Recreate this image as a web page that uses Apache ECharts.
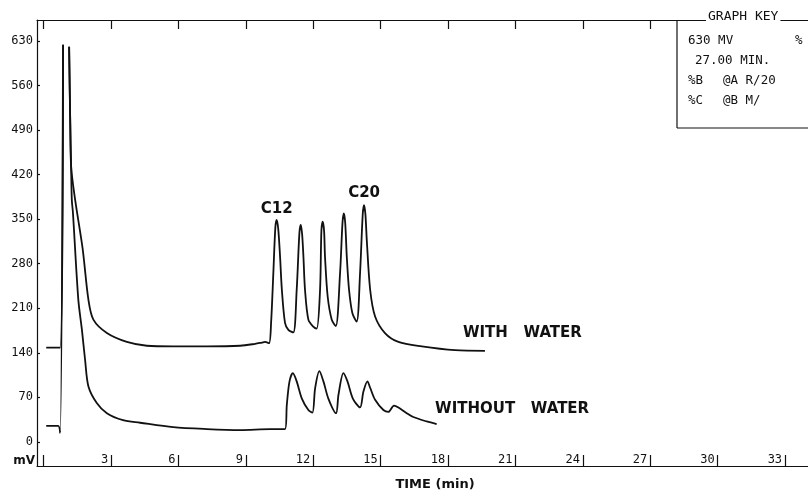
<!DOCTYPE html>
<html>
<head>
<meta charset="utf-8">
<script src="https://cdn.jsdelivr.net/npm/echarts@6/dist/echarts.min.js"></script>
<style>
  html, body { margin: 0; padding: 0; background: #fff; }
  #chart { width: 808px; height: 494px; }
</style>
</head>
<body>
<div id="chart"></div>
<script>
// Detector trace: [retention time (min), response (mV)]; '-' marks where the pen lifted off-scale
const withWater = [
  [0.11,148],[0.73,148],[0.86,624],[1.0,'-'],[1.13,621],[1.18,501],[1.22,432],[1.40,380],
  [1.73,304],[1.99,223],[2.21,192],[2.81,171],[3.70,157],[4.59,151],[5.76,150],[7.26,150],
  [8.74,151],[9.41,154],[9.71,156],[9.85,157],[10.03,155],[10.12,187],[10.22,265],[10.31,337],
  [10.37,349],[10.44,334],[10.52,291],[10.60,239],[10.74,187],[10.89,176],[11.11,172],[11.26,239],
  [11.38,328],[11.44,341],[11.50,327],[11.56,291],[11.63,239],[11.78,192],[12.00,181],[12.15,178],
  [12.30,239],[12.36,332],[12.42,346],[12.48,331],[12.52,291],[12.64,228],[12.82,192],[13.00,182],
  [13.19,265],[13.30,345],[13.36,359],[13.42,344],[13.49,291],[13.59,239],[13.74,202],[13.93,189],
  [14.08,265],[14.20,358],[14.26,372],[14.32,357],[14.38,317],[14.53,239],[14.75,197],[15.19,171],
  [15.79,157],[16.83,150],[18.31,144],[19.64,143]
];
const withoutWater = [
  [0.11,25],[0.64,25],[0.73,14],[0.86,624],[1.0,'-'],[1.13,621],[1.18,501],[1.22,432],[1.25,380],
  [1.30,360],[1.54,223],[1.70,176],[1.84,129],[1.99,87],[2.36,61],[2.81,45],[3.53,34],[4.29,30],
  [5.76,23],[7.26,20],[8.74,18.5],[10.08,20],[10.74,20],[10.82,58],[10.94,95],[11.09,108],
  [11.26,95],[11.49,68],[11.78,50],[11.96,46],[12.08,84],[12.27,111],[12.45,95],[12.67,68],
  [13.01,45],[13.12,74],[13.34,108],[13.52,95],[13.76,68],[14.08,54],[14.23,79],[14.41,95],
  [14.53,85],[14.75,66],[15.12,50],[15.34,47],[15.59,57],[15.79,54],[16.16,45],[16.45,39],
  [17.05,32],[17.49,28]
];

// Axis ticks and labels
const timeTicks = [0,3,6,9,12,15,18,21,24,27,30,33];
const timeLabels = [3,6,9,12,15,18,21,24,27,30,33];
const topTicks = [0,3,6,9,12,15,18,21,24,27];
const mvTicks = [0,70,140,210,280,350,420,490,560,630];

// Peak names and trace names
const peakNames = ['C12','C20'];
const traceNames = ['WITH   WATER','WITHOUT   WATER'];

// Recorder settings block
const keyTitle = 'GRAPH KEY';
const keyRows = [['630 MV','%'],['27.00 MIN.',''],['%B','@A R/20'],['%C','@B M/']];

// Highest point of a trace inside a time window
function peakIn(data, t0, t1) {
  let best = null;
  data.forEach(function (p) {
    if (p[1] !== '-' && p[0] >= t0 && p[0] <= t1 && (!best || p[1] > best[1])) best = p;
  });
  return best;
}

const ink = '#111';
const mono = "'DejaVu Sans Mono', 'Liberation Mono', monospace";
const sans = "'DejaVu Sans', 'Liberation Sans', sans-serif";

const boldLabel = {
  show: true, color: ink, fontFamily: sans, fontWeight: 'bold', fontSize: 15
};

const chart = echarts.init(document.getElementById('chart'), null, { renderer: 'canvas' });

const keyGraphics = [
  { type: 'line', shape: { x1: 677, y1: 20, x2: 677, y2: 128 }, style: { stroke: ink, lineWidth: 1.2 } },
  { type: 'line', shape: { x1: 677, y1: 128, x2: 808, y2: 128 }, style: { stroke: ink, lineWidth: 1.2 } },
  { type: 'text', x: 706, y: 17, z: 10,
    style: { text: keyTitle, font: '13px ' + mono, fill: ink, verticalAlign: 'middle', backgroundColor: '#fff', padding: [0, 2] } }
];
const rowY = [41, 61, 81, 101];
const colX = [[688, 795], [695, 0], [688, 723], [688, 723]];
keyRows.forEach(function (row, i) {
  row.forEach(function (txt, j) {
    if (!txt) return;
    keyGraphics.push({ type: 'text', x: colX[i][j], y: rowY[i],
      style: { text: txt, font: '12.5px ' + mono, fill: ink, verticalAlign: 'middle' } });
  });
});
keyGraphics.push({ type: 'text', x: 35, y: 467,
  style: { text: 'mV', font: 'bold 12px ' + sans, fill: ink, align: 'right', verticalAlign: 'bottom' } });

const c12 = peakIn(withWater, 10, 11);
const c20 = peakIn(withWater, 14, 15);

chart.setOption({
  animation: false,
  backgroundColor: '#fff',
  grid: { left: 37, right: 0, top: 20, bottom: 28, containLabel: false, outerBoundsMode: 'none' },
  xAxis: [{
    type: 'value', position: 'bottom', min: -0.3, max: 34.02,
    axisLine: { show: true, onZero: false, lineStyle: { color: ink, width: 1.2 } },
    axisTick: { show: true, inside: true, length: 11, customValues: timeTicks, lineStyle: { color: ink, width: 1.2 } },
    axisLabel: { customValues: timeLabels, align: 'right', verticalAlign: 'bottom', margin: 0,
      padding: [0, 3, 0, 0], color: ink, fontFamily: mono, fontSize: 12 },
    splitLine: { show: false },
    name: 'TIME (min)', nameLocation: 'middle', nameGap: 12,
    nameTextStyle: { color: ink, fontFamily: sans, fontWeight: 'bold', fontSize: 13, padding: [0, 0, 0, 25] }
  }, {
    type: 'value', position: 'top', min: -0.3, max: 34.02,
    axisLine: { show: true, onZero: false, lineStyle: { color: ink, width: 1.2 } },
    axisTick: { show: true, inside: true, length: 9, customValues: topTicks, lineStyle: { color: ink, width: 1.2 } },
    axisLabel: { show: false },
    splitLine: { show: false }
  }],
  yAxis: {
    type: 'value', min: -38, max: 663,
    axisLine: { show: true, onZero: false, lineStyle: { color: ink, width: 1.2 } },
    axisTick: { show: true, inside: true, length: 3, customValues: mvTicks, lineStyle: { color: ink, width: 1.2 } },
    axisLabel: { customValues: mvTicks, margin: 4, color: ink, fontFamily: mono, fontSize: 12 },
    splitLine: { show: false }
  },
  graphic: keyGraphics,
  series: [{
    type: 'line', name: traceNames[0], data: withWater, xAxisIndex: 0,
    symbol: 'none', smooth: 0.3, connectNulls: false,
    lineStyle: { color: ink, width: 1.8 },
    markPoint: {
      symbol: 'circle', symbolSize: 0, silent: true,
      data: [
        { name: peakNames[0], coord: c12, label: Object.assign({}, boldLabel, { position: 'top', distance: 3, formatter: peakNames[0] }) },
        { name: peakNames[1], coord: c20, label: Object.assign({}, boldLabel, { position: 'top', distance: 5, formatter: peakNames[1] }) },
        { name: traceNames[0], coord: [18.66, 171], label: Object.assign({}, boldLabel, { position: 'right', distance: 0, formatter: traceNames[0] }) }
      ]
    }
  }, {
    type: 'line', name: traceNames[1], data: withoutWater, xAxisIndex: 0,
    symbol: 'none', smooth: 0.3, connectNulls: false,
    lineStyle: { color: ink, width: 1.8 },
    markPoint: {
      symbol: 'circle', symbolSize: 0, silent: true,
      data: [
        { name: traceNames[1], coord: [17.42, 51.6], label: Object.assign({}, boldLabel, { position: 'right', distance: 0, formatter: traceNames[1] }) }
      ]
    }
  }]
});
</script>
</body>
</html>
